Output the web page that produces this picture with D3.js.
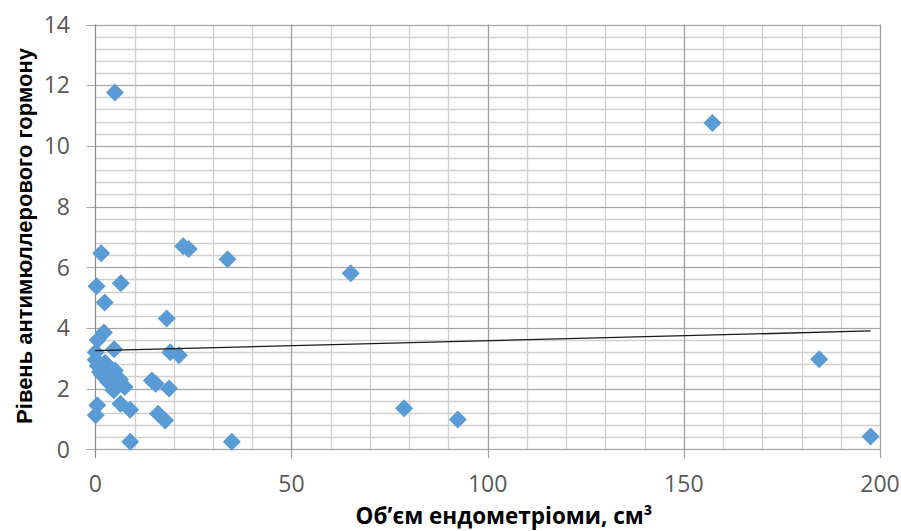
<!DOCTYPE html>
<html>
<head>
<meta charset="utf-8">
<script src="https://cdn.jsdelivr.net/npm/d3@7"></script>
<style>
  body { margin: 0; background: #fff; }
  svg { display: block; font-family: "Open Sans", sans-serif; }
</style>
</head>
<body>
<svg id="chart" width="901" height="531"></svg>
<script>
// endometrioma volume (cm3) vs AMH level
const volume = [5, 157.3, 1.5, 22.4, 23.8, 33.7, 65.1, 0.3, 6.5, 2.4, 18.2,
  2.2, 0.6, 4.8, 19.1, 21.3, 0.1, 0.1, 0.6, 2.5, 1.7, 5, 3.4, 6.3, 7.5, 4.7,
  14.4, 15.4, 18.8, 0.5, 0.1, 6.4, 8.9, 16, 17.8, 8.9, 34.8, 78.7, 92.4,
  184.5, 197.6, 1.2, 3];
const amh = [11.76, 10.75, 6.46, 6.69, 6.6, 6.26, 5.8, 5.37, 5.47, 4.84, 4.31,
  3.85, 3.6, 3.3, 3.2, 3.1, 3.2, 2.95, 2.75, 2.85, 2.45, 2.6, 2.2, 2.3, 2.05, 1.95,
  2.27, 2.16, 2.0, 1.45, 1.12, 1.5, 1.3, 1.17, 0.95, 0.25, 0.25, 1.35, 0.98,
  2.97, 0.42, 2.55, 2.35];

// linear trend line (as drawn in the original)
const trendX = [0, 197.6];
const trendY = [3.25, 3.9];

const xTicks = [0, 50, 100, 150, 200];
const yTicks = [0, 2, 4, 6, 8, 10, 12, 14];

const xTitle = "Об’єм ендометріоми, см³";
const yTitle = "Рівень антимюллерового гормону";

const svg = d3.select("#chart");
const pLeft = 95.3, pRight = 880, pTop = 24.5, pBottom = 449.3;

const x = d3.scaleLinear().domain([0, 200]).range([pLeft, pRight]);
const y = d3.scaleLinear().domain([0, 14]).range([pBottom, pTop]);

const grid = svg.append("g");

// minor horizontal lines every 0.4
grid.selectAll("line.hmin")
  .data(d3.range(0, 14.001, 0.4).map(v => +v.toFixed(1)))
  .enter().append("line")
  .attr("x1", pLeft).attr("x2", pRight)
  .attr("y1", d => Math.round(y(d)) + 0.5).attr("y2", d => Math.round(y(d)) + 0.5)
  .attr("stroke", "#d0d0d0").attr("stroke-width", 1.3);

// minor vertical lines every 10
grid.selectAll("line.vmin")
  .data(d3.range(10, 201, 10))
  .enter().append("line")
  .attr("y1", pTop).attr("y2", pBottom)
  .attr("x1", d => Math.round(x(d)) + 0.5).attr("x2", d => Math.round(x(d)) + 0.5)
  .attr("stroke", "#d0d0d0").attr("stroke-width", 1.3);

// major horizontal
grid.selectAll("line.hmaj")
  .data(yTicks)
  .enter().append("line")
  .attr("x1", pLeft - 9).attr("x2", pRight)
  .attr("y1", d => Math.round(y(d)) + 0.5).attr("y2", d => Math.round(y(d)) + 0.5)
  .attr("stroke", "#a6a6a6").attr("stroke-width", 1.2);

// major vertical
grid.selectAll("line.vmaj")
  .data(xTicks)
  .enter().append("line")
  .attr("y1", pTop).attr("y2", pBottom + 9)
  .attr("x1", d => Math.round(x(d)) + 0.5).attr("x2", d => Math.round(x(d)) + 0.5)
  .attr("stroke", d => d === 0 ? "#8c8c8c" : "#a0a0a0").attr("stroke-width", 1.2);

// tick labels
svg.append("g").selectAll("text")
  .data(yTicks)
  .enter().append("text")
  .attr("x", 70).attr("y", d => y(d))
  .attr("dy", "0.36em")
  .attr("text-anchor", "end")
  .attr("font-size", 23)
  .attr("fill", "#595959")
  .text(d => d);

svg.append("g").selectAll("text")
  .data(xTicks)
  .enter().append("text")
  .attr("x", d => x(d)).attr("y", 492)
  .attr("text-anchor", "middle")
  .attr("font-size", 23)
  .attr("fill", "#595959")
  .text(d => d);

// points
const pts = volume.map((v, i) => [v, amh[i]]);
const r = 9;
svg.append("g").selectAll("path")
  .data(pts)
  .enter().append("path")
  .attr("d", d => {
    const cx = x(d[0]), cy = y(d[1]);
    return `M${cx},${cy - r}L${cx + r},${cy}L${cx},${cy + r}L${cx - r},${cy}Z`;
  })
  .attr("fill", "#5b9bd5");

// trend
svg.append("line")
  .attr("x1", x(trendX[0])).attr("y1", y(trendY[0]))
  .attr("x2", x(trendX[1])).attr("y2", y(trendY[1]))
  .attr("stroke", "#1a1a1a").attr("stroke-width", 1.3);

// titles
svg.append("text")
  .attr("x", 504).attr("y", 524)
  .attr("text-anchor", "middle")
  .attr("font-size", 22.5).attr("font-weight", "bold")
  .text(xTitle);

svg.append("text")
  .attr("transform", "translate(32,236) rotate(-90)")
  .attr("text-anchor", "middle")
  .attr("font-family", "'Liberation Sans', Arial, sans-serif")
  .attr("font-size", 22).attr("font-weight", "bold")
  .text(yTitle);
</script>
</body>
</html>
